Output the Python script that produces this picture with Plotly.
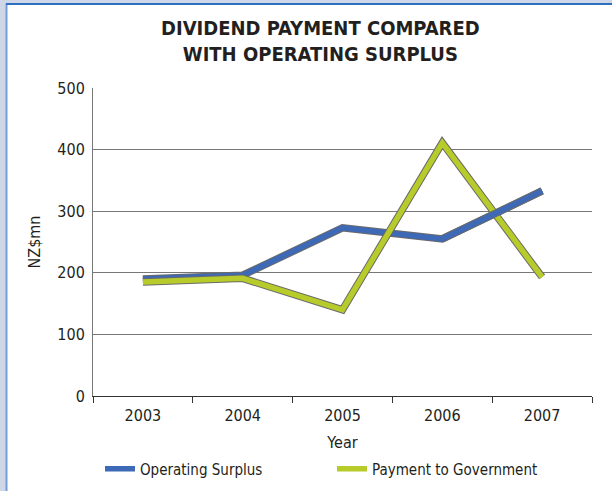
import plotly.graph_objects as go

years = ["2003", "2004", "2005", "2006", "2007"]
operating_surplus = [190, 196, 273, 255, 333]
payment_to_government = [185, 191, 140, 411, 193]

blue = "#3d69b6"
green = "#b7cc2b"
outline = "#6a6a6a"
font_family = "DejaVu Sans Condensed, Liberation Sans, sans-serif"

fig = go.Figure()
# outline effect
fig.add_trace(go.Scatter(x=years, y=operating_surplus, mode="lines",
                         line=dict(color=outline, width=7.5), showlegend=False, hoverinfo="skip"))
fig.add_trace(go.Scatter(x=years, y=operating_surplus, mode="lines", name="Operating Surplus",
                         line=dict(color=blue, width=5.5)))
fig.add_trace(go.Scatter(x=years, y=payment_to_government, mode="lines",
                         line=dict(color=outline, width=7.5), showlegend=False, hoverinfo="skip"))
fig.add_trace(go.Scatter(x=years, y=payment_to_government, mode="lines", name="Payment to Government",
                         line=dict(color=green, width=5.5)))
# last blue segment drawn over the green line (as in the reference)
fig.add_trace(go.Scatter(x=years[3:], y=operating_surplus[3:], mode="lines",
                         line=dict(color=outline, width=7.5), showlegend=False, hoverinfo="skip"))
fig.add_trace(go.Scatter(x=years[3:], y=operating_surplus[3:], mode="lines",
                         line=dict(color=blue, width=5.5), showlegend=False, hoverinfo="skip"))

W, H = 612, 491
L, R, T, B = 93, 20, 88, 95
pw, ph = W - L - R, H - T - B

def px(x):
    return (x - L) / pw

def py(y):
    return (H - B - y) / ph

# page background frame
fig.add_shape(type="rect", xref="paper", yref="paper",
              x0=px(6), x1=px(W + 5), y0=py(H + 5), y1=py(3.5),
              fillcolor="white", line=dict(width=0), layer="below")
fig.add_shape(type="line", xref="paper", yref="paper",
              x0=px(6.5), x1=px(6.5), y0=py(H + 5), y1=py(3.5),
              line=dict(color="#6f9fd8", width=2), layer="below")
fig.add_shape(type="line", xref="paper", yref="paper",
              x0=px(6), x1=px(W + 5), y0=py(4), y1=py(4),
              line=dict(color="#2f6fc0", width=2), layer="below")

fig.add_annotation(text="<b>DIVIDEND PAYMENT COMPARED<br>WITH OPERATING SURPLUS</b>",
                   xref="paper", yref="paper", x=px(320), y=py(41), xanchor="center",
                   yanchor="middle", showarrow=False, align="center",
                   font=dict(size=20, family=font_family, color="#231f20"))

fig.update_layout(
    width=W, height=H,
    margin=dict(l=L, r=R, t=T, b=B, autoexpand=False),
    paper_bgcolor="#cfd6e8",
    plot_bgcolor="white",
    font=dict(family=font_family, color="#231f20", size=16),
    showlegend=True,
    legend=dict(orientation="h", x=px(100), xanchor="left", y=py(469), yanchor="middle",
                bgcolor="rgba(0,0,0,0)", font=dict(size=15), entrywidth=187, itemwidth=30),
    xaxis=dict(type="category", range=[-0.5, 4.5], tickson="boundaries", ticks="outside",
               ticklen=6, tickcolor="#333", showline=True, linecolor="#333", linewidth=1,
               showgrid=False, tickfont=dict(size=16), ticklabelstandoff=5,
               title=dict(text="Year", font=dict(size=16), standoff=12)),
    yaxis=dict(range=[0, 500], tickvals=[0, 100, 200, 300, 400, 500], showgrid=True,
               gridcolor="#777", gridwidth=1, showline=True, linecolor="#777", linewidth=1,
               ticks="outside", ticklen=4, tickcolor="rgba(0,0,0,0)", zeroline=False,
               tickfont=dict(size=16),
               title=dict(text="NZ$mn", font=dict(size=16), standoff=12)),
)

fig.write_html("out.html")
